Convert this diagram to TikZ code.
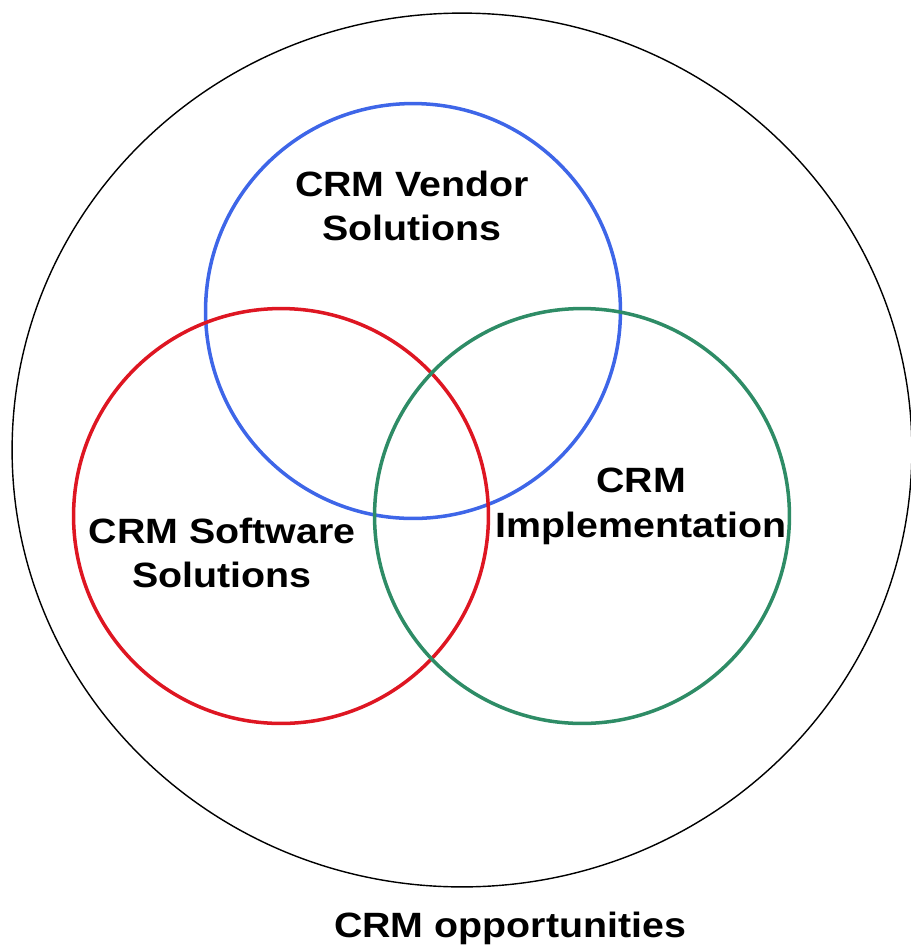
\documentclass[tikz,border=0pt]{standalone}
\usepackage{fontspec}
\setmainfont{Liberation Sans}
\definecolor{vblue}{RGB}{62,102,232}
\definecolor{vred}{RGB}{222,22,34}
\definecolor{vgreen}{RGB}{46,140,102}
\tikzstyle{ring} = [circle, minimum size=8.3cm, inner sep=0pt, line width=2pt]
\tikzstyle{lbl} = [align=center, font=\bfseries\fontsize{20}{25.5}\selectfont, xscale=1.12, transform shape]
\newcommand{\crm}{CRM}

\begin{document}
\begin{tikzpicture}[x=0.02cm, y=-0.02cm]%
	\useasboundingbox (0,0) rectangle (911,948);%
	\draw[line width=0.8pt] (462,450) ellipse (9cm and 8.74cm);%
	\node [ring, draw=vblue] (vendor) at (413,311) {};%
	\node [ring, draw=vred] (software) at (281,516) {};%
	\node [ring, draw=vgreen] (impl) at (582,516) {};%
	\node [lbl] (vendortxt) at (412,206) {\crm{} Vendor\\Solutions};%
	\node [lbl] (softwaretxt) at (222,553) {\crm{} Software\\Solutions};%
	\node [lbl] (impltxt) at (641,506) {\crm\\Implementation};%
	\node [lbl] (opp) at (510,928) {\crm{} opportunities};%
\end{tikzpicture}
\end{document}
